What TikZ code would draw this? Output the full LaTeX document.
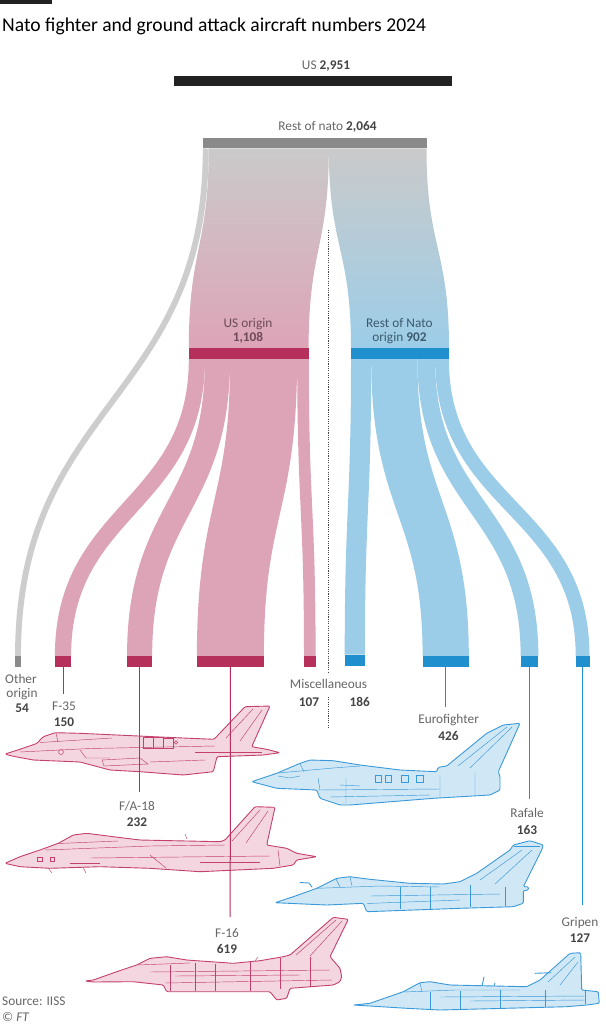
\documentclass[tikz,border=0pt]{standalone}
\usepackage{fontspec}
\setmainfont{Carlito}
\definecolor{pinkflow}{HTML}{DDA4B7}
\definecolor{crimson}{HTML}{B5305B}
\definecolor{blueflow}{HTML}{9CCDE8}
\definecolor{bluebar}{HTML}{1F8FCE}
\definecolor{grayflow}{HTML}{CDCDCD}
\definecolor{graybar}{HTML}{8A8A8A}
\definecolor{topgray}{HTML}{CACACA}
\definecolor{blackbar}{HTML}{222222}
\definecolor{labgray}{HTML}{666666}
\definecolor{numgray}{HTML}{444444}
\definecolor{pinktext}{HTML}{6E4B5A}
\definecolor{bluetext}{HTML}{3C5A6E}
\definecolor{pfill}{HTML}{F4D6E0}
\definecolor{pline}{HTML}{C4406D}
\definecolor{bfill}{HTML}{D0E7F5}
\definecolor{bline}{HTML}{3A9AD9}
\newcommand\labfont{\fontsize{13.3}{15}\selectfont}
\begin{document}
\begin{tikzpicture}[x=1pt,y=-1pt,
  barbox/.style={rectangle,inner sep=0pt,outer sep=0pt,draw=none},
  txt/.style={inner sep=0pt,anchor=base,text=labgray,font=\labfont},
  num/.style={inner sep=0pt,anchor=base,text=numgray,font=\labfont\bfseries},
  flowline/.style={line cap=butt},
  leader/.style={line width=1pt},
  divider/.style={line width=1.3pt,dash pattern=on 1.1pt off 1.2pt,color=numgray},
  pplane/.style={fill=pfill,draw=pline,line width=0.9pt,rounded corners=1.2pt,line join=round},
  bplane/.style={fill=bfill,draw=bline,line width=0.9pt,rounded corners=1.2pt,line join=round},
  pdet/.style={draw=pline,line width=0.45pt},
  bdet/.style={draw=bline,line width=0.45pt}]
\useasboundingbox (0,0) rectangle (605,1024);
\fill[white] (0,0) rectangle (605,1024);

% header
\fill[blackbar] (0,0) rectangle (52,4);
\node[inner sep=0pt,anchor=base west,font=\fontsize{19.6}{22}\selectfont,text=black] (title) at (2,31.7) {Nato fighter and ground attack aircraft numbers 2024};

% top bars
\node[barbox,fill=blackbar,minimum width=278pt,minimum height=10.5pt] (bUS) at (313,81.2) {};
\node[txt] (tUS) at (326,70) {US \textbf{\color{numgray}2,951}};
\node[barbox,fill=graybar,minimum width=223.7pt,minimum height=10.5pt] (bTop) at (314.65,143.25) {};
\node[txt] (tTop) at (327.5,130.5) {Rest of nato \textbf{\color{numgray}2,064}};

% middle bars
\node[barbox,fill=crimson,minimum width=119.8pt,minimum height=11pt] (bUSo) at (248.7,353.5) {};
\node[barbox,fill=bluebar,minimum width=98pt,minimum height=11pt] (bRo) at (400,353.5) {};

% coordinates on the bars
\coordinate (oTopR) at (208.7,148.5);
\coordinate (uTopR) at (328.8,148.5);
\coordinate (rTopR) at (426.5,148.5);

% top links (gradient)
\shade[top color=topgray,bottom color=pinkflow]
  (oTopR) .. controls (208.7,248) and (188.8,248) .. (bUSo.north west)
  -- (bUSo.north east) .. controls (308.6,248) and (328.8,248) .. (uTopR) -- cycle;
\shade[top color=topgray,bottom color=blueflow]
  (uTopR) .. controls (328.8,248) and (351,248) .. (bRo.north west)
  -- (bRo.north east) .. controls (449,248) and (426.5,248) .. (rTopR) -- cycle;

% bottom bars
\node[barbox,fill=graybar,minimum width=6pt,minimum height=11pt] (bOther) at (18,661.5) {};
\node[barbox,fill=crimson,minimum width=16.2pt,minimum height=11pt] (bF35) at (63,661.5) {};
\node[barbox,fill=crimson,minimum width=25.1pt,minimum height=11pt] (bF18) at (139.6,661.5) {};
\node[barbox,fill=crimson,minimum width=67pt,minimum height=11pt] (bF16) at (230.4,661.5) {};
\node[barbox,fill=crimson,minimum width=11.6pt,minimum height=11pt] (bMU) at (309.8,661.5) {};
\node[barbox,fill=bluebar,minimum width=20.2pt,minimum height=11pt] (bMR) at (354.8,660) {};
\node[barbox,fill=bluebar,minimum width=46.2pt,minimum height=11pt] (bEF) at (445.7,661.5) {};
\node[barbox,fill=bluebar,minimum width=17.7pt,minimum height=11pt] (bRF) at (529.5,661.5) {};
\node[barbox,fill=bluebar,minimum width=13.8pt,minimum height=11pt] (bGR) at (582.6,661.5) {};

% link starts
\coordinate (sOther) at (205.75,148.5);
\coordinate (sF35) at (196.9,359);
\coordinate (sF18) at (217.5,359);
\coordinate (sF16) at (263.6,359);
\coordinate (sMU) at (303,359);
\coordinate (sMR) at (361.1,359);
\coordinate (sEF) at (394.3,359);
\coordinate (sRF) at (426.2,359);
\coordinate (sGR) at (442,359);

% child links
\draw[flowline,grayflow,line width=5.9pt] (sOther) .. controls (205.75,402) and (18,402) .. (bOther.north);
\draw[flowline,pinkflow,line width=16.2pt] (sF35) .. controls (196.9,507.5) and (63,507.5) .. (bF35.north);
\draw[flowline,pinkflow,line width=25.1pt] (sF18) .. controls (217.5,507.5) and (139.6,507.5) .. (bF18.north);
\draw[flowline,pinkflow,line width=67pt] (sF16) .. controls (263.6,507.5) and (230.4,507.5) .. (bF16.north);
\draw[flowline,pinkflow,line width=11.6pt] (sMU) .. controls (303,507.5) and (309.8,507.5) .. (bMU.north);
\draw[flowline,blueflow,line width=20.2pt] (sMR) .. controls (361.1,507.5) and (354.8,507.5) .. (bMR.north);
\draw[flowline,blueflow,line width=46.2pt] (sEF) .. controls (394.3,507.5) and (445.7,507.5) .. (bEF.north);
\draw[flowline,blueflow,line width=17.7pt] (sRF) .. controls (426.2,507.5) and (529.5,507.5) .. (bRF.north);
\draw[flowline,blueflow,line width=13.8pt] (sGR) .. controls (442,507.5) and (582.6,507.5) .. (bGR.north);

% redraw bars on top
\fill[crimson] (bUSo.south west) rectangle (bUSo.north east);
\fill[bluebar] (bRo.south west) rectangle (bRo.north east);
\foreach \b/\c in {bOther/graybar,bF35/crimson,bF18/crimson,bF16/crimson,bMU/crimson,bMR/bluebar,bEF/bluebar,bRF/bluebar,bGR/bluebar}
  \fill[\c] (\b.south west) rectangle (\b.north east);

% middle labels
\node[txt,text=pinktext] (lUS1) at (248,327) {US origin};
\node[num,text=pinktext] (lUS2) at (248,341.5) {1,108};
\node[txt,text=bluetext] (lR1) at (399.4,327) {Rest of Nato};
\node[txt,text=bluetext] (lR2) at (399.4,341.5) {origin \textbf{902}};

% dotted divider
\coordinate (dA) at (328.8,230);
\coordinate (dB) at (328.8,673);
\coordinate (dC) at (328.8,697);
\coordinate (dD) at (328.8,727);
\draw[divider] (dA) -- (dB);
\draw[divider] (dC) -- (dD);

% ---------- aircraft ----------
% F-35
\path[pplane] (5,754) -- (20,749.3) -- (36.7,743.5) -- (43.3,736.7) -- (55,732.7) -- (80,733.3) -- (116.7,735) -- (166.7,737.3) -- (214,739.3) -- (245,706.7) -- (270,706) -- (251.7,746.7) -- (266.7,749.3) -- (280,752.7) -- (263.3,755) -- (217,756.7) -- (213.3,771.7) -- (183.3,775) -- (140,771.7) -- (110,770) -- (80,762) -- (33.3,760) -- (12,756) -- cycle;
\draw[pdet] (20,752) -- (90,748.5) -- (215,746);
\draw[pdet] (40,742.5) -- (112,738);
\draw[pdet] (56,733) -- (58,742);
\draw[pdet] (143.3,737.5) rectangle (153.3,748) (153.3,737.6) rectangle (163.3,748) (163.3,737.8) rectangle (173.3,748);
\draw[pdet] (102,760) -- (140,758) -- (148,764) -- (104,766) -- cycle;
\draw[pdet] (150,762) -- (205,760);
\draw[pdet] (226,738) -- (253,709) (240,741) -- (262,710);
\draw[pdet] (195,752) -- (262,752);
\draw[pdet] (176,742.5) circle (1.8pt);
\draw[pdet] (61,752) circle (2.5pt);
\draw[pdet] (80,750) -- (86,758) -- (110,758);
% F/A-18
\path[pplane] (5,863.3) -- (20,856.7) -- (40,850) -- (58.3,843.3) -- (73.3,835) -- (86.7,833.3) -- (113.3,836.7) -- (140,840) -- (220,841.7) -- (225,840) -- (255,806.7) -- (275,807.3) -- (266.7,845) -- (286.7,848.3) -- (296.7,853.3) -- (316.7,856.7) -- (296.7,860) -- (293.3,865) -- (273.3,868.3) -- (200,871.7) -- (150,868.3) -- (100,866.7) -- (50,868.3) -- (20,866.7) -- cycle;
\draw[pdet] (58,843.5) -- (118,841);
\draw[pdet] (45,850) -- (150,846) -- (225,845);
\draw[pdet] (90,858) -- (270,856);
\draw[pdet] (150,855) -- (166,868);
\draw[pdet] (232,841) -- (260,810) (246,843) -- (268,811);
\draw[pdet] (37,857) rectangle (42,861) (50,857) rectangle (54,861);
\draw[pdet] (185,834) -- (187,839);
\draw[pdet] (278,850) -- (280,866);
\draw[pdet] (70,863) -- (100,863) (200,862) -- (260,862);
\draw[pdet] (48,868) -- (52,873) (83,867) -- (86,873);
% F-16
\path[pplane] (85,981) -- (93.3,980) -- (116.7,971.7) -- (136.7,965) -- (150,958.3) -- (166.7,956.7) -- (186.7,960) -- (233.3,963.3) -- (260,960.7) -- (283.3,956.7) -- (290,955) -- (333.3,917.3) -- (348.3,919.3) -- (330,956.7) -- (340,968.3) -- (341.7,976.7) -- (340,981.7) -- (333.3,985) -- (290,988.3) -- (286.7,998.3) -- (276.7,1000) -- (270,991.7) -- (250,991.7) -- (166.7,991.7) -- (163.3,985) -- (133.3,981.7) -- (93.3,982) -- cycle;
\draw[pdet] (136.7,965) -- (190,963);
\draw[pdet] (150,972) -- (330,970) (165,983) -- (332,980);
\draw[pdet] (170,965) -- (170,991) (195,963) -- (195,991) (215,964) -- (215,991) (250,962) -- (250,991) (280,958) -- (280,989) (310,957) -- (310,987);
\draw[pdet] (296,955) -- (336,920) (310,956) -- (342,921);
\draw[pdet] (175,976) -- (300,975);
\draw[pdet] (255,961) -- (258,957);
% Eurofighter
\path[bplane] (251.7,781.7) -- (276.7,773.3) -- (300,763.3) -- (310,760) -- (333.3,760.7) -- (360,765) -- (400,770) -- (436.7,771.7) -- (438.3,767.3) -- (446.7,766) -- (486.7,733.3) -- (503.3,725) -- (520,723.3) -- (498.3,771.7) -- (500,776.7) -- (500,790) -- (490,795) -- (433.3,798.3) -- (350,805) -- (340,805) -- (320,798.3) -- (316.7,790) -- (276.7,788.3) -- cycle;
\draw[bdet] (278,773) -- (333,768) -- (360,766);
\draw[bdet] (300,763.5) -- (304,772);
\draw[bdet] (375,775) rectangle (381.7,782.7) (385,775) rectangle (391.7,782.7) (401.7,775) rectangle (408.3,782.7) (416.7,775) rectangle (423.3,782.7);
\draw[bdet] (318,790) -- (440,789) (330,797) -- (430,795);
\draw[bdet] (458,766) -- (507,727) (470,768) -- (512,727);
\draw[bdet] (278,776) -- (290,778) -- (300,776);
\draw[bdet] (318,778) -- (320,790) (346,778) -- (346,803) (440,775) -- (440,797) (475,773) -- (475,796);
\draw[bdet] (340,785) -- (360,786);
% Rafale
\path[bplane] (275,902.7) -- (293.3,896.7) -- (316.7,888.3) -- (336.7,878.3) -- (350,876.7) -- (370,879.3) -- (410,883.3) -- (443.3,884) -- (460,881.7) -- (476.7,873.3) -- (510,850) -- (513.3,845) -- (530,840.7) -- (543.3,845) -- (541.7,850) -- (523.3,886.7) -- (528.3,886.7) -- (528.3,890) -- (523.3,890.7) -- (523.3,903.3) -- (513.3,906.7) -- (460,908.3) -- (366.7,911.7) -- (363.3,903.3) -- (326.7,905) -- cycle;
\draw[bdet] (316.7,888.3) -- (380,886) -- (440,887);
\draw[bdet] (336,879) -- (340,887) (350,877) -- (352,886);
\draw[bdet] (366.7,903.5) -- (460,900) (370,896) -- (500,894);
\draw[bdet] (480,880) -- (522,850) (495,884) -- (532,850);
\draw[bdet] (400,887) -- (400,909) (430,887) -- (430,909) (470,885) -- (470,907) (505,887) -- (505,906);
\draw[bdet] (514,846) -- (540,846);
\draw[line width=0.9pt,draw=bline,line cap=round] (300,882.5) -- (309,883) -- (312,887);
% Gripen
\path[bplane] (353.3,1005) -- (370,1003.3) -- (403.3,991.7) -- (420,982.7) -- (430,981.7) -- (450,985) -- (526.7,986.7) -- (540,980) -- (570,953.3) -- (580.7,952.7) -- (581.7,990) -- (598.3,991.7) -- (599.3,1003.3) -- (586.7,1005) -- (566.7,1006.7) -- (440,1010) -- (406.7,1008.3) -- (370,1006) -- cycle;
\draw[bdet] (403.3,992) -- (455,990) -- (520,990);
\draw[bdet] (420,983) -- (422,992);
\draw[bdet] (440,997) -- (585,996) (470,1001) -- (585,1000);
\draw[bdet] (548,982) -- (575,957) (560,985) -- (578,962);
\draw[bdet] (430,992) -- (430,1009) (460,991) -- (460,1009) (500,990) -- (500,1008) (545,990) -- (545,1007) (585,991) -- (585,1004);
\draw[line width=0.9pt,draw=bline,line cap=round] (535,973.3) -- (551,972.7);
\draw[line width=0.9pt,draw=bline,line cap=round] (482,986) -- (484,977) (494,986) -- (495,983);

% ---------- leaders ----------
\coordinate (eF35) at (63,694);
\coordinate (eF18) at (139.6,792);
\coordinate (eF16) at (230.2,917);
\coordinate (eEF) at (445.7,707);
\coordinate (eRF) at (529.5,799);
\coordinate (eGR) at (582.6,905);
\draw[leader,crimson] (bF35.south) -- (eF35);
\draw[leader,crimson] (bF18.south) -- (eF18);
\draw[leader,crimson] (bF16.south) -- (eF16);
\draw[leader,bluebar] (bEF.south) -- (eEF);
\draw[leader,bluebar] (bRF.south) -- (eRF);
\draw[leader,bluebar] (bGR.south) -- (eGR);

% ---------- bottom labels ----------
\node[txt] (lOt1) at (21,683.5) {Other};
\node[txt] (lOt2) at (22,697) {origin};
\node[num] (lOt3) at (22,712) {54};
\node[txt] (lF35a) at (64,710) {F-35};
\node[num] (lF35b) at (64,726.5) {150};
\node[txt] (lF18a) at (137,810.5) {F/A-18};
\node[num] (lF18b) at (137,826) {232};
\node[txt] (lF16a) at (227,937) {F-16};
\node[num] (lF16b) at (227,953.7) {619};
\node[txt] (lMisc) at (328.5,688.5) {Miscellaneous};
\node[num] (lMU) at (309,706.5) {107};
\node[num] (lMR) at (359.7,706.5) {186};
\node[txt] (lEFa) at (448.6,723.5) {Eurofighter};
\node[num] (lEFb) at (448.6,740) {426};
\node[txt] (lRFa) at (527,817) {Rafale};
\node[num] (lRFb) at (527,834.5) {163};
\node[txt] (lGRa) at (580,926) {Gripen};
\node[num] (lGRb) at (580,942) {127};

% source
\node[txt,anchor=base west] (src) at (2,1005) {Source: IISS};
\node[txt,anchor=base west] (copy) at (2,1021.5) {\textcopyright{} \textit{FT}};
\end{tikzpicture}
\end{document}
